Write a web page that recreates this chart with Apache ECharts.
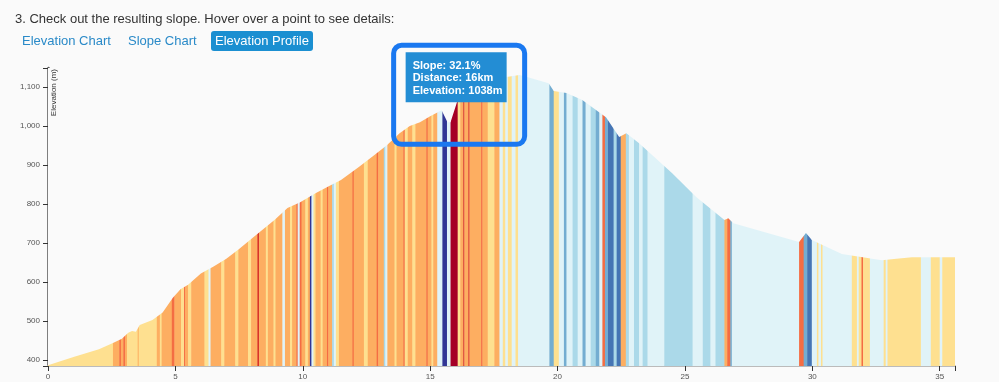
<!DOCTYPE html>
<html>
<head>
<meta charset="utf-8">
<script src="https://cdn.jsdelivr.net/npm/echarts@6/dist/echarts.min.js"></script>
<style>
  html, body { margin: 0; padding: 0; background: #fafafa; }
  #wrap { position: relative; width: 999px; height: 382px; overflow: hidden; font-family: Arial, "Liberation Sans", sans-serif; }
  #chart { position: absolute; left: 0; top: 0; width: 999px; height: 382px; }
  .intro { position: absolute; left: 15px; top: 11px; font-size: 13px; color: #333; white-space: nowrap; }
  .tab { position: absolute; top: 33px; font-size: 13px; line-height: 16px; color: #2a8ac8; white-space: nowrap; }
  .tab.active { background: #1b8fd1; color: #fff; border-radius: 3px; padding: 2px 4px; top: 31px; }
</style>
</head>
<body>
<div id="wrap">
  <div id="chart"></div>
  <div class="intro">3. Check out the resulting slope. Hover over a point to see details:</div>
  <div class="tab" style="left:22px">Elevation Chart</div>
  <div class="tab" style="left:128px">Slope Chart</div>
  <div class="tab active" style="left:211px">Elevation Profile</div>
</div>
<script>
// profile of the route: distance (km) and elevation (m)
var distKm = [0, 1.0, 2.0, 2.55, 2.9, 3.15, 3.3, 3.45, 3.6, 4.1, 4.5, 4.9, 5.2, 5.5, 6.0, 6.5, 7.0, 7.5, 8.0, 8.3,
  8.9, 9.4, 9.9, 10.5, 11.0, 11.5, 12.2, 12.8, 13.3, 13.8, 14.2, 14.6, 15.0, 15.45, 15.68, 15.8, 16.08, 16.6, 17.0, 17.5,
  18.0, 18.5, 18.7, 19.65, 19.85, 20.35, 20.97, 21.9, 22.42, 22.7, 23.2, 24.5, 25.44, 26.55, 26.7, 26.9, 29.48, 29.75, 29.98, 31.16,
  32.73, 33.3, 33.91, 35.6];
var elevM = [387, 408, 428, 444, 455, 470, 475, 473, 490, 503, 522, 560, 582, 593, 622, 640, 660, 685, 712, 728,
  760, 790, 805, 828, 845, 862, 895, 925, 951, 982, 1000, 1010, 1025, 1041, 1010, 1010, 1067, 1085, 1100, 1115,
  1126, 1131, 1128, 1110, 1090, 1085, 1067, 1023, 972, 982, 956, 879, 818, 759, 764, 751, 703, 726, 708, 672,
  656, 660, 664, 664];

// slope stripes: start of each stripe (km) and its slope (%)
var stripeStart = [0, 2.55, 2.8, 2.86, 2.96, 3.02, 3.1, 3.52, 3.56, 4.27, 4.39, 4.46, 4.86, 4.96, 5.22, 5.34, 5.38, 5.5, 5.62, 6.14,
  6.3, 6.38, 6.8, 6.92, 7.35, 7.47, 7.85, 7.97, 8.22, 8.28, 8.55, 8.63, 8.85, 8.93, 9.2, 9.3, 9.5, 9.58, 9.75, 9.8,
  9.88, 9.95, 10.1, 10.2, 10.28, 10.34, 10.42, 10.5, 10.7, 10.78, 10.95, 11.0, 11.15, 11.22, 11.3, 11.42, 11.95, 12.0, 12.4, 12.55,
  12.9, 12.96, 13.18, 13.24, 13.32, 13.6, 13.68, 13.95, 14.0, 14.12, 14.3, 14.42, 14.85, 14.9, 15.05, 15.12, 15.28, 15.48, 15.66, 15.8,
  16.08, 16.18, 16.3, 16.34, 16.5, 16.54, 17.0, 17.05, 17.26, 17.52, 17.72, 17.85, 17.95, 18.05, 18.2, 18.35, 18.45, 19.68, 19.85, 20.05,
  20.25, 20.35, 20.59, 20.79, 20.98, 21.1, 21.3, 21.5, 21.64, 21.76, 21.86, 21.98, 22.2, 22.32, 22.48, 22.68, 22.8, 23.0, 23.2, 23.34,
  23.53, 24.19, 25.3, 25.7, 26.0, 26.2, 26.55, 26.66, 26.78, 26.84, 29.48, 29.66, 29.8, 29.98, 30.18, 30.24, 30.34, 30.4, 31.55, 31.75,
  31.82, 31.93, 31.99, 32.26, 32.8, 32.88, 32.95, 34.26, 34.65, 35.0, 35.1];
var stripeSlope = [1.5, 4.5, 8, 4.5, 9, 4.5, 1.5, 4.5, 1.5, 4.5, 1.5, 4.5, 8, 4.5, 1.5, 8, 4.5, 1.5, 4.5, 1.5,
  -1.5, 4.5, 1.5, 4.5, 1.5, 4.5, 1.5, 4.5, 12, 4.5, 1.5, 4.5, 1.5, 4.5, -1.5, 4.5, 1.5, 4.5, 8, -1.5,
  8, 4.5, 1.5, 4.5, -20, -1.5, 1.5, 4.5, 1.5, 4.5, 8, 4.5, -4.5, -1.5, 1.5, 4.5, 8, 4.5, 1.5, 4.5,
  8, 4.5, -4.5, -1.5, 4.5, 1.5, 4.5, 8, 1.5, 4.5, 1.5, 4.5, 8, 4.5, 1.5, 4.5, -1.5, -20, -1.5, 32.1,
  1.5, 4.5, 12, 4.5, 12, 4.5, 8, 4.5, 1.5, 4.5, -1.5, 1.5, -1.5, 1.5, -1.5, 1.5, -1.5, -8, 1.5, -1.5,
  -8, -1.5, -4.5, -1.5, -8, -1.5, -4.5, -8, -1.5, 8, -8, -12, -4.5, -12, 4.5, -4.5, -1.5, -4.5, -1.5, -4.5,
  -1.5, -4.5, -1.5, -4.5, -1.5, -4.5, 4.5, 8, -8, -1.5, 8, -8, -12, -1.5, 1.5, -1.5, 1.5, -1.5, 1.5, -1.5,
  1.5, 8, 1.5, -1.5, 1.5, -1.5, 1.5, -1.5, 1.5, -1.5, 1.5];
var routeEndKm = 35.6;

var xTicks = [0, 5, 10, 15, 20, 25, 30, 35];
var yTicks = [400, 500, 600, 700, 800, 900, 1000, 1100];
var yMin = 385, yMax = 1149;

// hovered point shown in the tooltip
var hoverPoint = { slope: 32.1, dist: 16, elev: 1038 };

var stripes = stripeStart.map(function (s, i) {
  var e = i + 1 < stripeStart.length ? stripeStart[i + 1] : routeEndKm;
  return [s, e, stripeSlope[i]];
});
var profile = distKm.map(function (d, i) { return [d, elevM[i]]; });

var chart = echarts.init(document.getElementById('chart'));
chart.setOption({
  backgroundColor: '#fafafa',
  animation: false,
  grid: { left: 48, right: 44, top: 68, bottom: 16 },
  xAxis: {
    type: 'value', min: 0, max: routeEndKm,
    axisLine: { lineStyle: { color: '#bbb', width: 2 } },
    axisTick: { customValues: xTicks.concat([routeEndKm]), length: 5, lineStyle: { color: '#333' } },
    axisLabel: { customValues: xTicks, fontSize: 8, color: '#555', margin: 7, fontFamily: 'Arial' },
    splitLine: { show: false }
  },
  yAxis: {
    type: 'value', min: yMin, max: yMax,
    axisLine: { show: true, lineStyle: { color: '#555', width: 2.5 } },
    axisTick: { show: true, customValues: [yMin].concat(yTicks, [yMax]), length: 5, lineStyle: { color: '#333' } },
    axisLabel: {
      customValues: yTicks, fontSize: 8, color: '#555', margin: 8, fontFamily: 'Arial',
      formatter: function (v) { return v.toLocaleString('en-US'); }
    },
    splitLine: { show: false }
  },
  visualMap: {
    type: 'piecewise', show: false, dimension: 2, seriesIndex: 0,
    pieces: [
      { lt: -15, color: '#313695' },
      { gte: -15, lt: -10, color: '#4575b4' },
      { gte: -10, lt: -6, color: '#74add1' },
      { gte: -6, lt: -3, color: '#abd9e9' },
      { gte: -3, lt: 0, color: '#e0f3f8' },
      { gte: 0, lt: 3, color: '#fee090' },
      { gte: 3, lt: 6, color: '#fdae61' },
      { gte: 6, lt: 10, color: '#f46d43' },
      { gte: 10, lt: 15, color: '#d73027' },
      { gte: 15, color: '#a50026' }
    ]
  },
  series: [
    {
      type: 'custom',
      data: stripes,
      encode: { x: [0, 1] },
      clip: true,
      silent: true,
      renderItem: function (params, api) {
        var a = api.coord([api.value(0), yMax]);
        var b = api.coord([api.value(1), yMin]);
        return {
          type: 'rect',
          shape: { x: a[0], y: a[1], width: b[0] - a[0] + 0.5, height: b[1] - a[1] },
          style: { fill: api.visual('color') }
        };
      }
    },
    {
      // mask above the profile
      type: 'line',
      data: profile,
      symbol: 'none',
      silent: true,
      z: 3,
      lineStyle: { width: 0 },
      areaStyle: { origin: 'end', color: '#fafafa', opacity: 1 }
    }
  ]
});

var p = chart.convertToPixel({ gridIndex: 0 }, [hoverPoint.dist, hoverPoint.elev]);
chart.setOption({
  graphic: [
    {
      type: 'text', x: 54, y: 69, rotation: Math.PI / 2, z: 10,
      style: { text: 'Elevation (m)', fontSize: 8, fill: '#333', align: 'right', verticalAlign: 'middle', fontFamily: 'Arial' }
    },
    {
      type: 'rect', z: 20,
      shape: { x: p[0] - 50, y: p[1] - 59, width: 101, height: 50 },
      style: { fill: '#238dd4' }
    },
    {
      type: 'text', z: 21, x: p[0] - 43, y: p[1] - 52,
      style: {
        text: 'Slope: ' + hoverPoint.slope + '%\nDistance: ' + hoverPoint.dist + 'km\nElevation: ' + hoverPoint.elev + 'm',
        fill: '#fff', font: 'bold 11px Arial', lineHeight: 12.5
      }
    },
    {
      type: 'rect', z: 22,
      shape: { x: p[0] - 62, y: p[1] - 66, width: 131, height: 99, r: 8 },
      style: { fill: null, stroke: '#1a78f0', lineWidth: 5 }
    }
  ]
});
</script>
</body>
</html>
